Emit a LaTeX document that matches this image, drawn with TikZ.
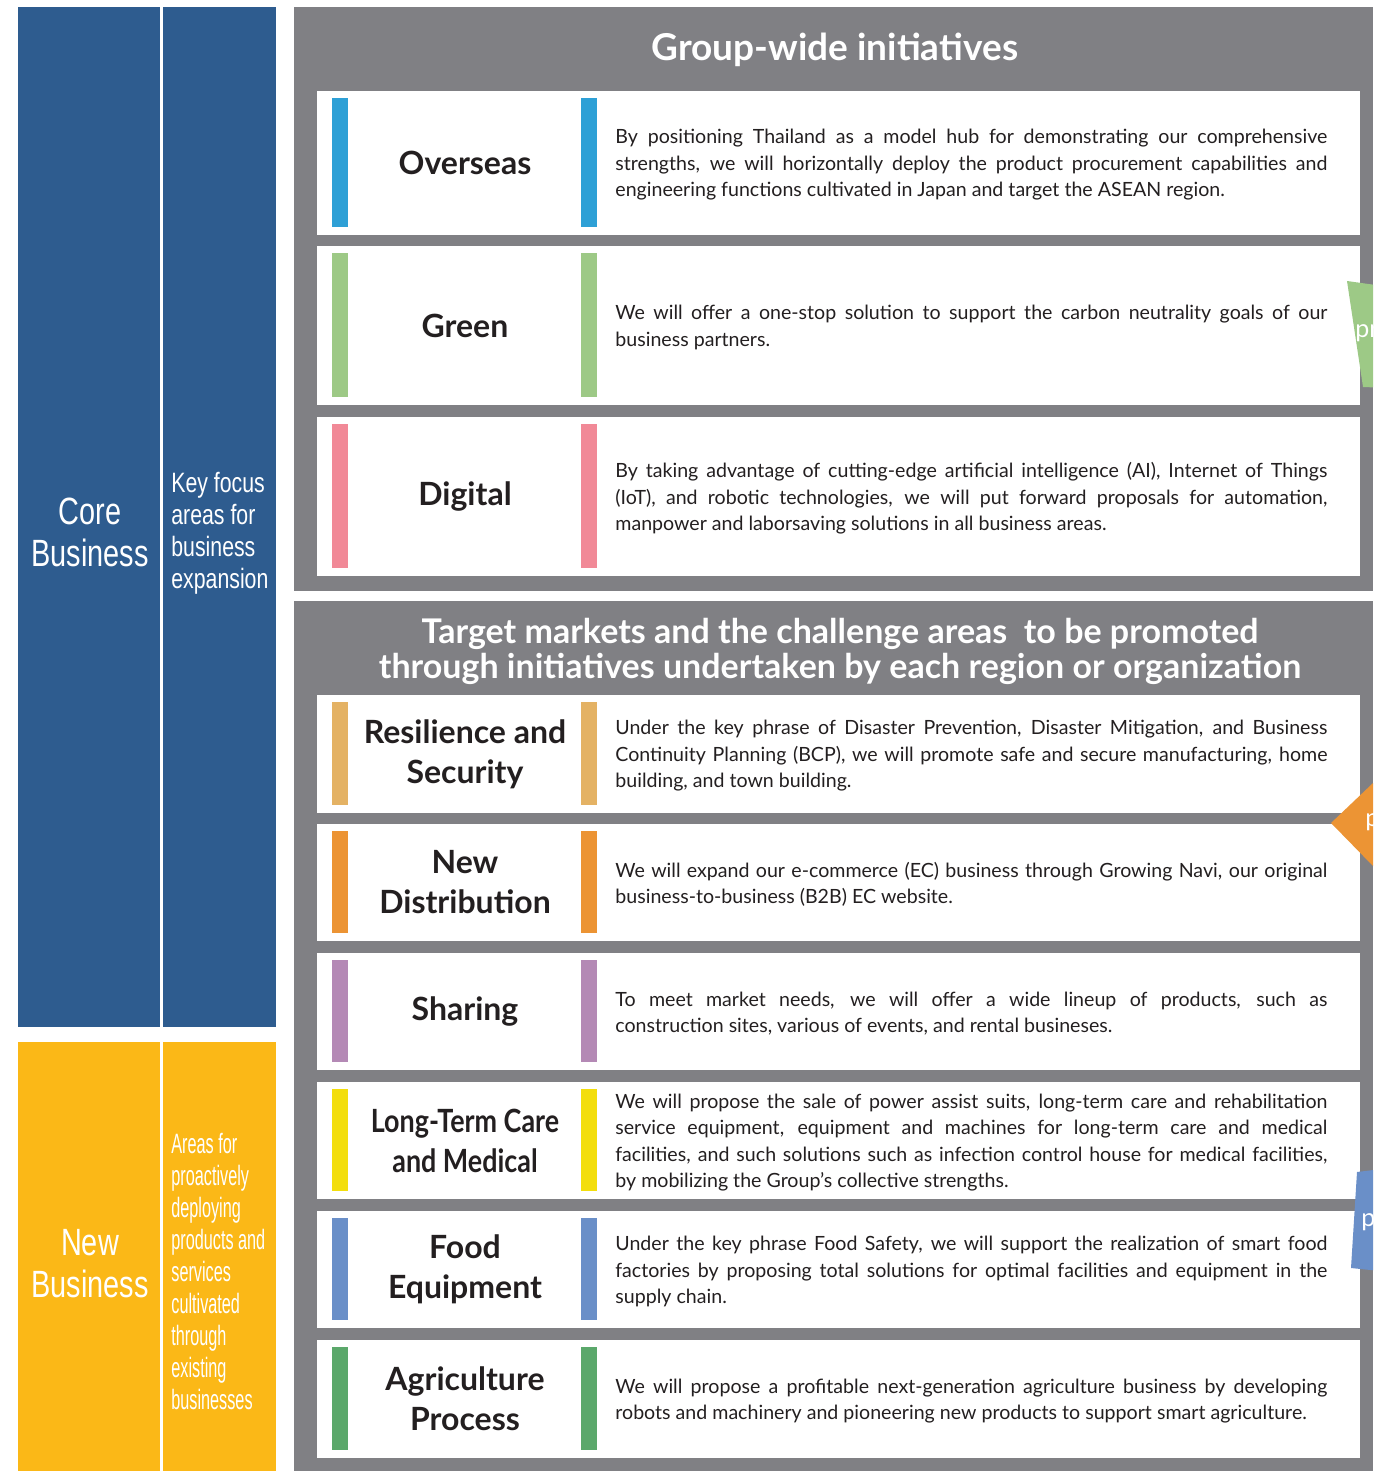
\documentclass[tikz,border=0pt]{standalone}
\usepackage{fontspec}
\setmainfont{Lato}
\newfontfamily\narrowfont[FakeStretch=0.76]{Liberation Sans}
\newfontfamily\narrowerfont[FakeStretch=0.58]{Liberation Sans}
\newfontfamily\labelnarrow[FakeStretch=0.84]{Lato}
\usetikzlibrary{backgrounds}
\pgfdeclarelayer{edgelayer}
\pgfdeclarelayer{nodelayer}
\pgfsetlayers{edgelayer,nodelayer,main}
\definecolor{coreblue}{RGB}{46,92,143}
\definecolor{newyellow}{RGB}{251,184,23}
\definecolor{panelgray}{RGB}{128,128,132}
\definecolor{inktext}{RGB}{35,31,32}
\definecolor{cOverseas}{RGB}{46,160,214}
\definecolor{cGreen}{RGB}{157,201,134}
\definecolor{cDigital}{RGB}{241,137,151}
\definecolor{cResil}{RGB}{228,178,100}
\definecolor{cDistr}{RGB}{236,148,52}
\definecolor{cShare}{RGB}{180,137,181}
\definecolor{cCare}{RGB}{243,222,12}
\definecolor{cFood}{RGB}{106,143,200}
\definecolor{cAgri}{RGB}{91,168,107}
\tikzstyle{none}=[inner sep=0pt]
\tikzstyle{heading}=[inner sep=0pt,text=white,align=center,font=\bfseries\fontsize{17}{17.5}\selectfont]
\tikzstyle{sidetitle}=[inner sep=0pt,text=white,align=center,font=\narrowfont\fontsize{19}{21}\selectfont]
\tikzstyle{sidenote}=[inner sep=0pt,text=white,align=left,anchor=west,font=\narrowfont\fontsize{14}{16}\selectfont]
\tikzstyle{areaname}=[inner sep=0pt,text=inktext,align=center,font=\bfseries\fontsize{16}{20}\selectfont]
\tikzstyle{blurb}=[inner sep=0pt,text=inktext,anchor=west,text width=356pt,align=justify,font=\fontsize{9.8}{13.25}\selectfont]
\tikzstyle{tab}=[inner sep=0pt,text=white,anchor=west,font=\fontsize{12.5}{16}\selectfont]
% one white row: name, top, bottom, colour, area, text
\newcommand{\arearow}[6]{%
  \begin{pgfonlayer}{edgelayer}
    \fill[white] (317,#2) rectangle (1360,#3);
    \fill[#4] (332,#2+7) rectangle (348,#3-8);
    \fill[#4] (581,#2+7) rectangle (597,#3-8);
  \end{pgfonlayer}
  \begin{pgfonlayer}{nodelayer}
    \node[style=areaname] (#1) at (465,{(#2+#3)/2}) {#5};
    \node[style=blurb] (#1-text) at (615,{(#2+#3)/2+2}) {#6};
  \end{pgfonlayer}}

\begin{document}
\begin{tikzpicture}[x=0.5pt,y=-0.5pt]
	\useasboundingbox (0,0) rectangle (1373,1471);
	\begin{pgfonlayer}{edgelayer}
		\fill[coreblue] (18,7) rectangle (276,1027);
		\fill[newyellow] (18,1042) rectangle (276,1471);
		\draw[white,line width=1.5pt] (161.5,7) to (161.5,1027);
		\draw[white,line width=1.5pt] (161.5,1042) to (161.5,1471);
		\fill[panelgray] (294,7) rectangle (1373,591);
		\fill[panelgray] (294,601) rectangle (1373,1471);
	\end{pgfonlayer}
	\begin{pgfonlayer}{nodelayer}
		\node [style=sidetitle] (core) at (90,532) {Core\\Business};
		\node [style=sidenote] (keyfocus) at (171,533) {Key focus\\areas for\\business\\expansion};
		\node [style=sidetitle] (new) at (90,1264) {New\\Business};
		\node [style=sidenote,font=\narrowerfont\fontsize{14}{16}\selectfont] (proactive) at (171,1271) {Areas for\\proactively\\deploying\\products and\\services\\cultivated\\through\\existing\\businesses};
		\node [style=heading,font=\bfseries\fontsize{18.5}{20}\selectfont] (group) at (835,50) {Group-wide initiatives};
		\node [style=heading] (target) at (840,651) {Target markets and the challenge areas\ \ to be promoted\\through initiatives undertaken by each region or organization};
	\end{pgfonlayer}
	\arearow{overseas}{91}{235}{cOverseas}{Overseas}{By positioning Thailand as a model hub for demonstrating our comprehensive\linebreak strengths, we will horizontally deploy the product procurement capabilities and\linebreak engineering functions cultivated in Japan and target the ASEAN region.}
	\arearow{green}{246}{405}{cGreen}{Green}{We will offer a one-stop solution to support the carbon neutrality goals of our\linebreak business partners.}
	\arearow{digital}{417}{576}{cDigital}{Digital}{By taking advantage of cutting-edge artificial intelligence (AI), Internet of Things\linebreak (IoT), and robotic technologies, we will put forward proposals for automation,\linebreak manpower and laborsaving solutions in all business areas.}
	\arearow{resilience}{695}{813}{cResil}{Resilience and\\Security}{Under the key phrase of Disaster Prevention, Disaster Mitigation, and Business\linebreak Continuity Planning (BCP), we will promote safe and secure manufacturing, home\linebreak building, and town building.}
	\arearow{distribution}{824}{941}{cDistr}{New\\Distribution}{We will expand our e-commerce (EC) business through Growing Navi, our original\linebreak business-to-business (B2B) EC website.}
	\arearow{sharing}{953}{1070}{cShare}{Sharing}{To meet market needs, we will offer a wide lineup of products, such as\linebreak construction sites, various of events, and rental busineses.}
	\arearow{care}{1082}{1199}{cCare}{\labelnarrow Long-Term Care\\\labelnarrow and Medical}{We will propose the sale of power assist suits, long-term care and rehabilitation\linebreak service equipment, equipment and machines for long-term care and medical\linebreak facilities, and such solutions such as infection control house for medical facilities,\linebreak by mobilizing the Group’s collective strengths.}
	\arearow{food}{1211}{1328}{cFood}{Food\\Equipment}{Under the key phrase Food Safety, we will support the realization of smart food\linebreak factories by proposing total solutions for optimal facilities and equipment in the\linebreak supply chain.}
	\arearow{agri}{1340}{1458}{cAgri}{Agriculture\\Process}{We will propose a profitable next-generation agriculture business by developing\linebreak robots and machinery and pioneering new products to support smart agriculture.}
	% tabs cut off at the right edge
	\begin{scope}
		\clip (0,0) rectangle (1373,1471);
		\fill[cGreen] (1347,281) -- (1390,287) -- (1390,388) -- (1363,387) -- cycle;
		\node [style=tab] (tab1) at (1355,333) {pr};
		\fill[cDistr] (1331,823) -- (1373,783) -- (1390,783) -- (1390,866) -- (1373,866) -- cycle;
		\node [style=tab] (tab2) at (1365,822) {p};
		\fill[cFood] (1357,1172) -- (1390,1168) -- (1390,1272) -- (1351,1268) -- cycle;
		\node [style=tab] (tab3) at (1361,1222) {p};
	\end{scope}
\end{tikzpicture}
\end{document}
